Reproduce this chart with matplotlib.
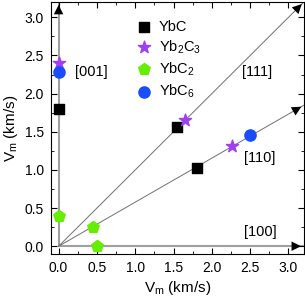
import matplotlib
matplotlib.use("Agg")
import matplotlib.pyplot as plt
from matplotlib.ticker import MultipleLocator
import numpy as np

plt.rcParams['font.family'] = ['Liberation Sans', 'DejaVu Sans']
plt.rcParams['mathtext.fontset'] = 'custom'
plt.rcParams['mathtext.rm'] = 'Liberation Sans'

# sound velocities (km/s)
ybc_x = [0.0, 1.55, 1.80]
ybc_y = [1.80, 1.56, 1.03]
yb2c3_x = [0.0, 1.65, 2.26]
yb2c3_y = [2.40, 1.66, 1.31]
ybc2_x = [0.0, 0.45, 0.50]
ybc2_y = [0.40, 0.25, 0.0]
ybc6_x = [0.0, 2.50]
ybc6_y = [2.29, 1.46]

dir_labels = ['[001]', '[111]', '[110]', '[100]']
dir_pos = [(0.22, 2.28), (2.40, 2.28), (2.42, 1.16), (2.42, 0.19)]

fig = plt.figure(figsize=(3.05, 2.99), dpi=100)
ax = fig.add_axes([0.167, 0.151, 0.829, 0.842])
lim = 3.2
ax.set_xlim(-0.1, lim)
ax.set_ylim(-0.1, lim)

# direction lines with arrows
gray = '#a0a0a0'
ax.plot([0, 0], [0, lim], color=gray, lw=1.5, zorder=1)
ax.plot([0, lim], [0, 0], color=gray, lw=1.5, zorder=1)
ax.plot([0, lim], [0, lim], color='#707070', lw=0.7, zorder=1)
ax.plot([0, lim], [0, lim / np.sqrt(3)], color='#707070', lw=0.7, zorder=1)
arrow = dict(arrowstyle='-|>', color='black', lw=0, mutation_scale=17)
for (x0, y0, x1, y1) in [(0, 2.9, 0, lim), (2.9, 0, lim, 0),
                         (2.9, 2.9, lim, lim),
                         (2.9, 2.9 / np.sqrt(3), lim, lim / np.sqrt(3))]:
    ax.annotate('', xy=(x1, y1), xytext=(x0, y0), arrowprops=arrow,
                annotation_clip=False, zorder=3)

ax.scatter(ybc_x, ybc_y, marker='s', s=45, color='black', label='YbC', zorder=4)
ax.scatter(yb2c3_x, yb2c3_y, marker='*', s=85, color='#a040f0',
           label='Yb$_2$C$_3$', zorder=4)
ax.scatter(ybc2_x, ybc2_y, marker='p', s=75, color='#66ee00',
           label='YbC$_2$', zorder=4)
ax.scatter(ybc6_x, ybc6_y, marker='o', s=65, color='#1a4cff',
           label='YbC$_6$', zorder=4)

for lab, (x, y) in zip(dir_labels, dir_pos):
    ax.text(x, y, lab, fontsize=10.5, va='center')

ax.legend(loc='upper left', bbox_to_anchor=(0.295, 0.97), frameon=False,
          fontsize=10.5, handletextpad=0.4, labelspacing=0.3, borderpad=0.2,
          handlelength=1.2)

ax.xaxis.set_major_locator(MultipleLocator(0.5))
ax.yaxis.set_major_locator(MultipleLocator(0.5))
ax.xaxis.set_minor_locator(MultipleLocator(0.25))
ax.yaxis.set_minor_locator(MultipleLocator(0.25))
ax.tick_params(which='both', direction='in', top=True, right=True,
               labelsize=10)
ax.tick_params(which='major', length=4, pad=5)
ax.tick_params(which='minor', length=2)
ax.xaxis.set_major_formatter(plt.FormatStrFormatter('%.1f'))
ax.yaxis.set_major_formatter(plt.FormatStrFormatter('%.1f'))

ax.set_xlabel('V$_\\mathrm{m}$ (km/s)', fontsize=11, labelpad=3)
ax.set_ylabel('V$_\\mathrm{m}$ (km/s)', fontsize=11, labelpad=3)

fig.savefig('out.png', dpi=100)
